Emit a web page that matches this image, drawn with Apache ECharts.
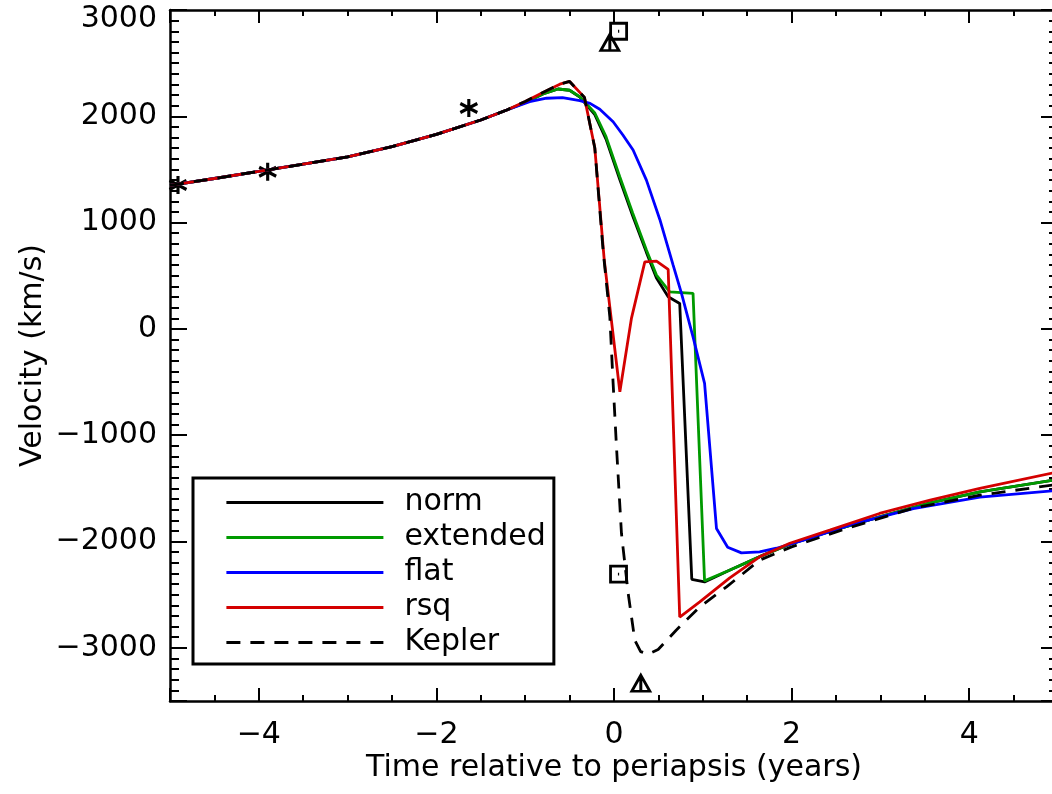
<!DOCTYPE html>
<html>
<head>
<meta charset="utf-8">
<script src="https://cdn.jsdelivr.net/npm/echarts@6/dist/echarts.min.js"></script>
<style>
html,body{margin:0;padding:0;background:#fff;}
#chart{width:1052px;height:794px;}
</style>
</head>
<body>
<div id="chart"></div>
<script>
// ---- data (time in years relative to periapsis, velocity in km/s) ----
const earlyT = [-5.0, -4.5, -4.0, -3.5, -3.0, -2.5, -2.0, -1.5, -1.2];
const earlyV = [1350, 1415, 1482, 1550, 1618, 1715, 1830, 1965, 2062];

const normT = [-1.0, -0.8, -0.63, -0.5, -0.385, -0.216, -0.09, 0.065, 0.21, 0.365, 0.478, 0.61, 0.74, 0.876, 1.02, 1.30, 1.68, 1.98, 2.43, 2.99, 3.56, 4.12, 5.0];
const normV = [2130, 2210, 2257, 2245, 2180, 2015, 1785, 1405, 1065, 720, 478, 302, 240, -2355, -2380, -2270, -2128, -2025, -1905, -1768, -1636, -1532, -1415];

const extT = [-1.0, -0.8, -0.63, -0.5, -0.385, -0.216, -0.09, 0.065, 0.21, 0.365, 0.478, 0.628, 0.89, 1.02, 1.30, 1.68, 1.98, 2.43, 2.99, 3.56, 4.12, 5.0];
const extV = [2130, 2210, 2257, 2245, 2184, 2031, 1808, 1431, 1090, 742, 506, 349, 334, -2370, -2270, -2128, -2025, -1905, -1768, -1636, -1532, -1415];

const flatT = [-0.95, -0.76, -0.58, -0.385, -0.27, -0.16, -0.01, 0.10, 0.215, 0.365, 0.516, 0.666, 0.76, 0.89, 1.02, 1.154, 1.28, 1.435, 1.64, 1.83, 2.24, 2.69, 3.37, 4.12, 5.0];
const flatV = [2137, 2170, 2175, 2147, 2122, 2066, 1949, 1824, 1683, 1400, 1030, 600, 334, -74, -513, -1877, -2053, -2107, -2097, -2063, -1960, -1837, -1690, -1583, -1518];

const rsqT = [-1.0, -0.8, -0.61, -0.5, -0.333, -0.216, -0.11, 0.066, 0.197, 0.347, 0.478, 0.61, 0.74, 0.966, 1.30, 1.64, 1.98, 2.43, 2.99, 3.56, 4.12, 5.0];
const rsqV = [2140, 2225, 2302, 2328, 2178, 1701, 650, -591, 102, 631, 638, 560, -2710, -2568, -2345, -2144, -2016, -1893, -1736, -1611, -1500, -1345];

const kepT = [-1.0, -0.8, -0.61, -0.5, -0.333, -0.216, -0.123, -0.047, -0.01, 0.028, 0.084, 0.16, 0.234, 0.30, 0.384, 0.497, 0.70, 0.966, 1.267, 1.64, 2.0, 2.62, 3.37, 4.12, 5.0];
const kepV = [2140, 2225, 2302, 2328, 2178, 1701, 742, 114, -510, -1110, -1924, -2489, -2928, -3035, -3060, -3016, -2834, -2615, -2427, -2175, -2050, -1877, -1686, -1564, -1462];

const starT = [-4.91, -3.90, -1.635];
const starV = [1353, 1478, 2078];
const squareT = [0.052, 0.051];
const squareV = [2800, -2307];
const triT = [-0.047, 0.302];
const triV = [2694, -3333];

const seriesNames = ['norm', 'extended', 'flat', 'rsq', 'Kepler'];
const xTitle = 'Time relative to periapsis (years)';
const yTitle = 'Velocity (km/s)';

// ---- helpers ----
const FONT = 'DejaVu Sans';
const LW = 2.8;
function pairs(t, v) { return t.map((x, i) => [x, v[i]]); }
function withEarly(t, v) { return pairs(earlyT.concat(t), earlyV.concat(v)); }
function fmt(v) { return String(v).replace('-', '\u2212'); }

const axisCommon = {
  type: 'value',
  axisLine: { show: true, onZero: false, lineStyle: { color: '#000', width: 2.5 } },
  splitLine: { show: false },
  minorSplitLine: { show: false },
  nameMoveOverlap: false
};

const chart = echarts.init(document.getElementById('chart'), null, { renderer: 'canvas' });

const option = {
  animation: false,
  backgroundColor: '#fff',
  grid: { left: 170, top: 10, right: -6, bottom: 93, containLabel: false, outerBoundsMode: 'none' },
  legend: {
    data: seriesNames,
    orient: 'vertical',
    left: 193, top: 478,
    padding: [7, 8, 4, 32],
    itemWidth: 157, itemHeight: 14, itemGap: 0,
    borderColor: '#000', borderWidth: 3,
    itemStyle: { color: 'transparent', borderColor: 'transparent', borderWidth: 0, opacity: 0 },
    lineStyle: { width: LW },
    textStyle: { fontFamily: FONT, fontSize: 30, color: '#000', lineHeight: 35, padding: [0, 0, 0, 16] },
    selectedMode: false
  },
  xAxis: [
    Object.assign({}, axisCommon, {
      min: -5, max: 5, position: 'bottom',
      axisTick: { show: true, inside: true, length: 13, lineStyle: { color: '#000', width: 2 } },
      minorTick: { show: true, splitNumber: 4, length: 6, lineStyle: { color: '#000', width: 2 } },
      axisLabel: { show: true, margin: 19, fontFamily: FONT, fontSize: 30, color: '#000',
        showMinLabel: false, showMaxLabel: false, formatter: fmt },
      name: xTitle, nameLocation: 'middle', nameGap: 52,
      nameTextStyle: { fontFamily: FONT, fontSize: 30, color: '#000' }
    }),
    Object.assign({}, axisCommon, {
      min: -5, max: 5, position: 'top',
      axisTick: { show: true, inside: true, length: 13, lineStyle: { color: '#000', width: 2 } },
      minorTick: { show: true, splitNumber: 4, length: 6, lineStyle: { color: '#000', width: 2 } },
      axisLabel: { show: false }
    })
  ],
  yAxis: [
    Object.assign({}, axisCommon, {
      min: -3500, max: 3000, position: 'left',
      axisTick: { show: true, inside: true, length: 17, lineStyle: { color: '#000', width: 2 } },
      minorTick: { show: true, splitNumber: 10, length: 9, lineStyle: { color: '#000', width: 2 } },
      axisLabel: { show: true, margin: 13, fontFamily: FONT, fontSize: 30, color: '#000',
        showMinLabel: false,
        formatter: v => (v === 3000 ? '{top|' + fmt(v) + '}' : fmt(v)),
        rich: { top: { fontFamily: FONT, fontSize: 30, color: '#000', padding: [18, 0, 0, 0] } } },
      name: yTitle, nameLocation: 'middle', nameGap: 122, nameRotate: 90,
      nameTextStyle: { fontFamily: FONT, fontSize: 30, color: '#000' }
    }),
    Object.assign({}, axisCommon, {
      min: -3500, max: 3000, position: 'right',
      axisTick: { show: true, inside: true, length: 17, lineStyle: { color: '#000', width: 2 } },
      minorTick: { show: true, splitNumber: 10, length: 9, lineStyle: { color: '#000', width: 2 } },
      axisLabel: { show: false }
    })
  ],
  series: [
    { name: 'norm', type: 'line', data: withEarly(normT, normV), symbol: 'none', showSymbol: false,
      lineStyle: { color: '#000000', width: LW } },
    { name: 'extended', type: 'line', data: withEarly(extT, extV), symbol: 'none', showSymbol: false,
      lineStyle: { color: '#009a00', width: LW } },
    { name: 'flat', type: 'line', data: withEarly(flatT, flatV), symbol: 'none', showSymbol: false,
      lineStyle: { color: '#0000ff', width: LW } },
    { name: 'rsq', type: 'line', data: withEarly(rsqT, rsqV), symbol: 'none', showSymbol: false,
      lineStyle: { color: '#d40000', width: LW } },
    { name: 'Kepler', type: 'line', data: withEarly(kepT, kepV), symbol: 'none', showSymbol: false,
      lineStyle: { color: '#000000', width: LW, type: [14, 10] } },
    { name: 'stars', type: 'scatter', data: pairs(starT, starV),
      symbol: 'path://M0,-8 L0,8 M-7,-4 L7,4 M-7,4 L7,-4', symbolSize: [17, 18],
      itemStyle: { color: 'transparent', borderColor: '#000', borderWidth: 3.2, opacity: 1 } },
    { name: 'squares', type: 'scatter', data: pairs(squareT, squareV),
      symbol: 'path://M-8,-8 L8,-8 L8,8 L-8,8 Z M-0.6,0 L0.6,0', symbolSize: 16,
      itemStyle: { color: 'transparent', borderColor: '#000', borderWidth: 2.8, opacity: 1 } },
    { name: 'triangles', type: 'scatter', data: pairs(triT, triV),
      symbol: 'path://M0,-8 L9,8 L-9,8 Z M0,-8 L0,8', symbolSize: [18, 16],
      itemStyle: { color: 'transparent', borderColor: '#000', borderWidth: 2.8, opacity: 1 } }
  ]
};
chart.setOption(option);
</script>
</body>
</html>
